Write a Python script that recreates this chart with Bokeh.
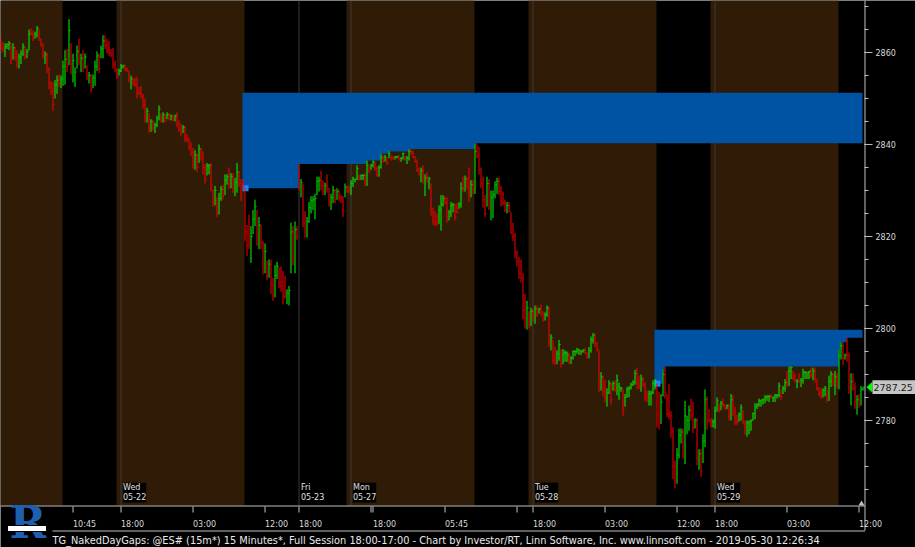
import numpy as np
from bokeh.plotting import figure
from bokeh.models import ColumnDataSource, Range1d
from bokeh.embed import file_html
from bokeh.resources import INLINE
from bokeh.core.properties import value

# ---------------- data (15-minute @ES# bars) ----------------
highs = [
    2863.0, 2862.25, 2862.0, 2862.0, 2862.5, 2862.0, 2862.0, 2861.25, 2860.5, 2859.75,
    2860.5, 2862.0, 2861.25, 2860.75, 2865.0, 2865.25, 2864.75, 2864.5, 2865.75, 2865.0,
    2863.0, 2862.0, 2860.25, 2860.0, 2856.75, 2853.75, 2853.5, 2854.0, 2855.0, 2855.25,
    2855.0, 2858.25, 2860.5, 2860.75, 2867.25, 2862.0, 2859.75, 2856.75, 2861.5, 2863.0,
    2859.75, 2860.5, 2859.75, 2857.25, 2855.75, 2855.25, 2855.25, 2858.25, 2860.25, 2859.75,
    2861.5, 2863.75, 2863.75, 2863.0, 2862.5, 2860.75, 2861.0, 2858.25, 2856.5, 2856.5,
    2857.5, 2857.25, 2857.25, 2856.75, 2856.0, 2855.0, 2854.5, 2854.5, 2854.75, 2852.5,
    2852.75, 2851.0, 2850.0, 2848.0, 2846.75, 2845.5, 2845.25, 2844.75, 2846.25, 2848.5,
    2846.75, 2847.0, 2846.5, 2847.0, 2846.75, 2846.5, 2846.25, 2846.5, 2847.0, 2845.25,
    2844.5, 2844.25, 2844.0, 2842.25, 2841.5, 2840.5, 2839.25, 2838.75, 2838.0, 2840.0,
    2839.25, 2838.5, 2835.75, 2836.0, 2835.75, 2836.0, 2830.25, 2831.0, 2828.5, 2829.5,
    2831.0, 2831.25, 2833.5, 2833.5, 2835.0, 2833.75, 2833.75, 2832.75, 2836.0, 2834.25,
    2832.5, 2832.25, 2830.5, 2822.5, 2824.75, 2822.25, 2825.75, 2828.0, 2825.75, 2824.25,
    2822.5, 2819.0, 2818.5, 2814.75, 2815.0, 2815.0, 2811.0, 2813.75, 2814.5, 2813.25,
    2813.5, 2812.5, 2811.5, 2808.5, 2809.25, 2823.0, 2822.25, 2823.25, 2822.25, 2835.75,
    2832.5, 2831.5, 2825.5, 2824.25, 2827.5, 2828.75, 2828.75, 2829.25, 2833.0, 2833.0,
    2834.25, 2832.25, 2831.75, 2833.5, 2830.5, 2829.25, 2831.0, 2830.25, 2830.5, 2830.25,
    2829.0, 2828.75, 2831.5, 2831.0, 2831.0, 2832.25, 2833.0, 2832.5, 2835.5, 2833.5,
    2833.5, 2833.5, 2833.75, 2836.5, 2835.25, 2835.75, 2836.5, 2836.25, 2835.25, 2835.5,
    2838.0, 2837.75, 2837.75, 2837.0, 2838.5, 2837.75, 2837.5, 2837.5, 2837.5, 2837.5,
    2837.25, 2838.25, 2837.5, 2837.5, 2839.0, 2839.0, 2838.75, 2837.5, 2836.75, 2835.0,
    2835.0, 2835.5, 2833.5, 2834.0, 2833.0, 2831.5, 2826.25, 2825.5, 2825.0, 2826.75,
    2829.0, 2829.0, 2828.75, 2828.5, 2825.75, 2827.5, 2827.25, 2827.0, 2827.25, 2827.5,
    2831.75, 2833.0, 2833.25, 2833.0, 2835.0, 2832.25, 2832.25, 2840.25, 2840.25, 2839.5,
    2835.0, 2833.0, 2829.0, 2833.0, 2832.5, 2830.0, 2830.0, 2832.0, 2832.75, 2833.0,
    2831.0, 2829.75, 2828.0, 2827.5, 2827.5, 2825.25, 2823.0, 2820.75, 2817.0, 2815.5,
    2815.0, 2812.0, 2807.5, 2806.0, 2803.75, 2804.5, 2804.25, 2805.0, 2805.0, 2804.5,
    2805.25, 2803.75, 2803.5, 2805.0, 2804.75, 2798.75, 2797.5, 2796.0, 2795.25, 2797.5,
    2795.5, 2795.5, 2795.25, 2795.0, 2794.75, 2794.0, 2795.25, 2795.25, 2795.75, 2795.5,
    2795.25, 2795.5, 2795.75, 2794.75, 2796.0, 2798.25, 2799.0, 2799.0, 2797.0, 2795.25,
    2790.5, 2789.75, 2788.75, 2787.0, 2788.75, 2788.25, 2788.5, 2788.75, 2790.0, 2788.25,
    2787.25, 2786.75, 2785.75, 2787.25, 2787.5, 2788.25, 2788.75, 2791.0, 2791.5, 2789.75,
    2790.0, 2789.5, 2788.25, 2786.5, 2786.5, 2786.5, 2788.75, 2789.0, 2788.0, 2786.25,
    2785.75, 2791.0, 2791.75, 2785.75, 2788.0, 2782.0, 2778.5, 2771.25, 2774.0, 2778.25,
    2778.25, 2778.25, 2784.25, 2781.0, 2783.25, 2784.75, 2784.0, 2780.5, 2780.5, 2773.75,
    2773.75, 2777.0, 2786.75, 2785.25, 2782.5, 2780.5, 2780.25, 2783.0, 2785.0, 2783.75,
    2784.25, 2784.75, 2783.5, 2783.5, 2783.5, 2785.75, 2785.5, 2783.0, 2781.25, 2781.75,
    2783.5, 2782.25, 2780.0, 2780.0, 2780.0, 2780.25, 2781.75, 2783.75, 2783.75, 2784.75,
    2784.5, 2784.75, 2785.5, 2785.5, 2785.5, 2785.75, 2785.25, 2785.75, 2785.75, 2788.25,
    2786.75, 2787.5, 2789.0, 2790.75, 2791.75, 2791.75, 2790.75, 2790.25, 2789.0, 2790.25,
    2789.25, 2791.25, 2790.75, 2790.5, 2790.75, 2791.5, 2791.5, 2791.5, 2789.0, 2787.25,
    2787.0, 2787.0, 2787.5, 2786.75, 2789.75, 2790.75, 2790.25, 2790.75, 2790.25, 2795.5,
    2797.0, 2797.0, 2794.5, 2798.0, 2794.75, 2790.25, 2790.25, 2788.25, 2785.5, 2785.75,
    2787.5, 2787.25,
]

lows = [
    2860.5, 2860.0, 2859.0, 2860.75, 2860.5, 2857.5, 2858.5, 2858.25, 2856.75, 2856.5,
    2857.5, 2859.25, 2858.5, 2858.75, 2860.5, 2863.75, 2862.5, 2863.0, 2863.25, 2862.5,
    2861.25, 2858.75, 2857.5, 2855.5, 2852.0, 2850.75, 2847.25, 2850.0, 2851.0, 2852.5,
    2852.25, 2852.75, 2853.0, 2855.75, 2857.25, 2855.25, 2853.5, 2852.5, 2856.5, 2857.25,
    2855.75, 2855.75, 2856.5, 2854.0, 2853.25, 2851.25, 2852.25, 2852.75, 2856.0, 2855.5,
    2858.75, 2858.75, 2860.75, 2859.75, 2859.25, 2859.0, 2856.5, 2855.75, 2854.25, 2855.0,
    2855.75, 2856.5, 2856.0, 2855.75, 2853.5, 2852.0, 2852.75, 2852.5, 2850.0, 2850.75,
    2850.0, 2847.75, 2844.75, 2844.75, 2842.5, 2842.75, 2843.0, 2842.5, 2843.75, 2845.25,
    2844.75, 2844.75, 2844.75, 2845.5, 2845.25, 2845.25, 2845.0, 2845.0, 2843.75, 2842.75,
    2841.75, 2842.5, 2840.5, 2840.5, 2838.75, 2837.5, 2834.75, 2834.5, 2834.0, 2836.0,
    2836.5, 2833.5, 2831.5, 2833.25, 2833.5, 2829.75, 2826.5, 2826.75, 2824.25, 2824.75,
    2827.75, 2828.0, 2829.0, 2831.25, 2830.25, 2830.5, 2829.5, 2828.75, 2829.5, 2830.75,
    2827.75, 2830.25, 2819.0, 2815.75, 2817.25, 2814.25, 2820.5, 2822.25, 2818.0, 2817.25,
    2817.25, 2811.75, 2812.0, 2810.5, 2811.0, 2807.5, 2806.0, 2806.75, 2810.75, 2808.75,
    2808.0, 2805.25, 2806.5, 2805.25, 2805.0, 2812.0, 2813.75, 2812.0, 2819.25, 2830.0,
    2828.5, 2822.0, 2819.75, 2819.75, 2823.0, 2825.0, 2825.75, 2823.75, 2829.0, 2829.75,
    2830.0, 2829.0, 2829.0, 2829.5, 2826.5, 2825.75, 2827.25, 2827.25, 2828.0, 2827.75,
    2827.25, 2824.25, 2828.5, 2829.5, 2829.5, 2829.0, 2830.75, 2831.75, 2832.25, 2832.25,
    2832.25, 2832.25, 2831.0, 2831.0, 2833.75, 2834.5, 2835.0, 2834.25, 2833.0, 2833.0,
    2834.75, 2836.0, 2836.25, 2835.5, 2837.0, 2836.5, 2836.75, 2836.75, 2837.0, 2836.5,
    2836.25, 2836.75, 2836.5, 2835.75, 2836.5, 2837.75, 2837.0, 2836.0, 2834.0, 2833.25,
    2831.75, 2831.5, 2828.75, 2831.75, 2830.25, 2824.5, 2822.5, 2822.25, 2822.5, 2822.75,
    2821.25, 2826.5, 2827.0, 2823.0, 2823.5, 2824.25, 2825.25, 2823.5, 2825.0, 2826.0,
    2826.25, 2829.75, 2829.75, 2830.25, 2827.5, 2828.5, 2829.25, 2829.25, 2837.0, 2833.5,
    2830.5, 2826.25, 2824.25, 2826.5, 2825.75, 2823.5, 2824.0, 2828.25, 2829.25, 2829.0,
    2826.5, 2826.75, 2825.25, 2825.0, 2825.25, 2820.5, 2819.0, 2815.25, 2813.5, 2810.75,
    2810.0, 2802.0, 2800.0, 2799.75, 2800.0, 2800.5, 2801.5, 2801.0, 2802.5, 2803.25,
    2802.75, 2801.5, 2801.75, 2802.5, 2796.0, 2795.25, 2792.25, 2792.0, 2792.25, 2793.0,
    2791.5, 2792.25, 2792.75, 2792.75, 2792.25, 2792.25, 2793.25, 2794.0, 2794.5, 2794.25,
    2794.25, 2794.75, 2794.5, 2793.5, 2793.5, 2794.75, 2796.75, 2796.0, 2795.0, 2786.25,
    2786.5, 2785.25, 2784.0, 2783.0, 2785.75, 2783.5, 2786.5, 2786.25, 2785.5, 2784.5,
    2786.25, 2781.0, 2783.0, 2785.0, 2785.0, 2786.75, 2787.5, 2787.75, 2786.75, 2786.75,
    2786.25, 2787.25, 2784.25, 2784.0, 2783.25, 2783.25, 2785.75, 2786.75, 2778.5, 2778.0,
    2779.25, 2785.25, 2784.75, 2780.75, 2780.25, 2776.25, 2767.25, 2765.25, 2766.25, 2771.75,
    2775.0, 2771.75, 2770.5, 2777.0, 2777.75, 2780.0, 2777.25, 2778.25, 2770.25, 2769.25,
    2767.75, 2770.75, 2774.25, 2778.0, 2779.5, 2778.5, 2778.5, 2778.25, 2782.0, 2781.75,
    2782.25, 2783.0, 2782.25, 2782.5, 2780.0, 2780.0, 2781.0, 2779.0, 2779.0, 2779.75,
    2780.0, 2779.25, 2777.0, 2776.5, 2777.0, 2777.75, 2780.0, 2780.25, 2782.5, 2783.0,
    2783.0, 2783.5, 2783.75, 2784.25, 2784.0, 2784.75, 2784.0, 2784.0, 2784.75, 2785.0,
    2784.5, 2785.75, 2786.25, 2787.25, 2787.5, 2789.0, 2788.75, 2788.25, 2787.0, 2788.25,
    2787.25, 2788.0, 2789.0, 2789.0, 2789.0, 2789.25, 2788.75, 2788.25, 2786.5, 2785.25,
    2784.75, 2785.0, 2785.25, 2784.0, 2784.25, 2787.25, 2787.5, 2785.5, 2787.0, 2786.75,
    2793.25, 2792.0, 2793.25, 2792.75, 2785.75, 2783.25, 2786.5, 2782.5, 2781.25, 2782.75,
    2783.25, 2786.5,
]

closes = [
    2861.0, 2860.5, 2861.25, 2861.75, 2862.0, 2858.5, 2861.0, 2859.0, 2857.5, 2859.0,
    2859.75, 2861.25, 2859.25, 2860.25, 2864.0, 2864.0, 2863.0, 2864.0, 2865.25, 2863.0,
    2861.75, 2859.5, 2859.5, 2856.5, 2853.25, 2851.5, 2848.75, 2853.0, 2854.0, 2853.25,
    2854.25, 2857.0, 2858.5, 2857.0, 2864.75, 2857.5, 2858.25, 2855.75, 2860.25, 2858.75,
    2858.75, 2857.0, 2859.0, 2854.75, 2855.0, 2852.0, 2854.5, 2857.0, 2859.25, 2856.5,
    2860.75, 2862.5, 2861.5, 2860.5, 2860.0, 2859.5, 2857.5, 2856.25, 2854.75, 2856.0,
    2857.0, 2857.25, 2856.25, 2856.0, 2854.0, 2854.25, 2853.25, 2853.0, 2851.25, 2851.0,
    2850.5, 2848.5, 2846.0, 2847.25, 2843.5, 2845.0, 2843.5, 2844.25, 2845.75, 2847.75,
    2845.25, 2846.5, 2845.25, 2846.5, 2845.75, 2846.25, 2845.5, 2846.25, 2844.5, 2843.25,
    2842.5, 2843.75, 2841.25, 2841.0, 2839.5, 2838.25, 2835.75, 2837.75, 2835.0, 2839.0,
    2837.25, 2835.0, 2832.5, 2835.25, 2835.5, 2831.25, 2827.5, 2830.0, 2825.25, 2828.25,
    2830.25, 2829.0, 2832.25, 2833.0, 2831.5, 2833.0, 2830.5, 2831.75, 2834.0, 2831.5,
    2829.0, 2830.75, 2821.0, 2818.0, 2818.5, 2820.0, 2823.75, 2826.5, 2820.0, 2822.5,
    2818.5, 2813.5, 2816.75, 2811.5, 2814.0, 2809.5, 2807.25, 2811.5, 2813.5, 2810.0,
    2809.25, 2807.0, 2807.5, 2807.75, 2808.25, 2821.0, 2815.5, 2821.5, 2820.0, 2831.0,
    2831.75, 2823.0, 2821.0, 2823.25, 2826.25, 2827.75, 2828.0, 2828.25, 2832.0, 2832.25,
    2831.0, 2829.75, 2831.0, 2830.5, 2827.5, 2828.5, 2830.0, 2828.0, 2829.75, 2828.5,
    2827.75, 2825.5, 2830.75, 2829.75, 2829.5, 2831.5, 2832.5, 2832.5, 2834.75, 2832.5,
    2833.25, 2833.25, 2831.75, 2835.5, 2834.25, 2835.5, 2836.25, 2834.75, 2833.5, 2835.0,
    2837.25, 2836.5, 2837.25, 2836.0, 2838.0, 2837.0, 2836.75, 2837.25, 2837.5, 2836.75,
    2837.0, 2838.0, 2836.75, 2837.0, 2838.5, 2838.0, 2837.25, 2836.25, 2834.5, 2833.5,
    2834.25, 2832.5, 2832.75, 2832.25, 2832.5, 2826.0, 2823.25, 2822.75, 2822.5, 2825.75,
    2827.0, 2828.25, 2827.25, 2824.25, 2825.25, 2826.75, 2827.0, 2824.25, 2825.25, 2827.0,
    2830.5, 2830.5, 2832.5, 2830.75, 2829.5, 2831.25, 2830.0, 2838.5, 2837.5, 2834.5,
    2831.5, 2828.0, 2825.0, 2831.5, 2827.5, 2828.5, 2829.0, 2831.25, 2832.0, 2829.75,
    2827.5, 2827.25, 2825.75, 2826.75, 2825.5, 2821.5, 2820.0, 2816.5, 2814.5, 2812.0,
    2811.0, 2804.0, 2801.0, 2804.5, 2801.0, 2803.75, 2802.25, 2804.25, 2803.0, 2804.25,
    2803.25, 2801.75, 2803.0, 2804.5, 2797.0, 2798.0, 2793.0, 2792.5, 2794.5, 2796.5,
    2792.25, 2794.5, 2794.75, 2794.25, 2792.75, 2793.5, 2795.0, 2795.0, 2795.5, 2795.25,
    2795.0, 2795.25, 2794.75, 2793.75, 2795.25, 2797.5, 2798.5, 2796.75, 2795.5, 2788.0,
    2789.5, 2786.25, 2785.0, 2786.0, 2788.0, 2784.5, 2788.0, 2786.75, 2788.75, 2787.25,
    2787.0, 2782.5, 2785.0, 2786.75, 2787.0, 2787.75, 2788.25, 2790.25, 2788.0, 2787.5,
    2789.0, 2787.75, 2785.25, 2784.5, 2785.75, 2786.0, 2788.0, 2788.75, 2781.0, 2779.5,
    2784.0, 2790.0, 2786.0, 2781.5, 2781.0, 2777.5, 2770.0, 2767.0, 2772.5, 2776.75,
    2777.5, 2773.0, 2781.0, 2780.0, 2782.25, 2781.0, 2778.5, 2780.0, 2772.0, 2772.75,
    2769.0, 2775.5, 2784.5, 2780.0, 2780.0, 2779.0, 2779.75, 2782.0, 2784.25, 2782.25,
    2783.75, 2783.25, 2782.5, 2783.25, 2781.0, 2784.5, 2782.0, 2779.75, 2779.5, 2781.25,
    2782.75, 2779.75, 2779.25, 2779.5, 2779.75, 2780.0, 2781.5, 2783.0, 2783.5, 2784.25,
    2784.5, 2784.5, 2785.0, 2785.25, 2785.25, 2785.0, 2785.0, 2785.5, 2785.5, 2787.5,
    2785.25, 2787.0, 2788.25, 2788.0, 2790.75, 2791.5, 2789.25, 2788.75, 2788.5, 2788.25,
    2788.75, 2790.5, 2790.5, 2790.5, 2790.75, 2789.75, 2790.75, 2789.0, 2787.0, 2785.75,
    2785.25, 2786.5, 2787.0, 2784.5, 2788.5, 2790.0, 2788.25, 2789.5, 2787.75, 2794.0,
    2796.25, 2793.5, 2794.25, 2794.0, 2787.0, 2788.5, 2787.0, 2784.0, 2784.5, 2783.5,
    2786.75, 2787.25,
]

# bar direction: G = up bar, R = down bar
directions = (
    "RRGGGRGRRG" "GGRGGRRGGR" "RRGRRRRGGR" "GGGRGRGGGR" "GRGRGRGGGR"
    "GGRRRRRRRG" "GGRRRGRRRR" "RRRGRGRGGG" "RGRGRGRGRR" "RGRRRRRGRG"
    "RRRGGRRGRG" "GRGGRGRGGR" "RRRRRGGGRG" "RRGRGRRGGR" "RRRGGGRGRR"
    "GRRGGGGGGG" "RRGRRGGRGR" "RRGRRGGGGR" "GGRGRGGRRG" "GRGRGRRGGR"
    "GGRGGRRRRR" "GRGRGRRRRG" "GGRRGGGRRG" "GRGRRGRGRR" "RRRGRGGGGR"
    "RRRGRRRRRR" "RRRGRGRGRG" "RRGGRGRRGG" "RGGGRGGGGG" "GGRRGGGRRR"
    "GRRGGRGRGG" "GRGGGGGGRR" "GRRRGGGGRR" "GGRRRRRRGG" "GRGGGRRGRG"
    "RGGRRRGGGR" "GRRGRGRRRG" "GRRGGGGGGG" "GGGGGRGGGG" "RGGRGGRRGR"
    "GGGGGRGRRR" "RGGRGGRGRG" "GRGRRGRRGR" "GG"
)

last_price = 2787.25

# trading-session structure (bar indices)
rth_start = [31, 122, 237, 328, 419]        # black (day-session) bands
rth_end = [58, 173, 264, 355, 432]
session_bars = [60, 149, 175, 266, 357]     # new-session separators
session_names = ["Wed\n05-22", "Fri\n05-23", "Mon\n05-27", "Tue\n05-28", "Wed\n05-29"]
time_tick_bars = [36, 60, 96, 132, 149, 185, 186, 222, 258, 266, 302, 338, 357, 393, 429]
time_tick_labels = ["10:45", "18:00", "03:00", "12:00", "18:00", "", "18:00", "05:45", "",
                    "18:00", "03:00", "12:00", "18:00", "03:00", "12:00"]
gap_open_bars = [122, 328]                  # day opens that gapped below prior day low
gap_prior_day = [(31, 59), (237, 264)]      # prior day-session bars

price_ticks = [2780, 2800, 2820, 2840, 2860]
price_minor_ticks = list(range(2765, 2871, 5))

caption = ("TG_NakedDayGaps: @ES# (15m*) 15 Minutes*, Full Session 18:00-17:00 - "
           "Chart by Investor/RT, Linn Software, Inc. www.linnsoft.com - 2019-05-30 12:26:34")

# ---------------- layout (pixel geometry of the canvas) ----------------
W, Hpx = 915, 547
PX_PER_BAR = 2.0
PX_PER_PT = 4.6
TOP_PRICE = 2871.3
CHART_BOTTOM_PX = 505


def bx(px):
    return px / PX_PER_BAR


def py(px):
    return TOP_PRICE - px / PX_PER_PT


H = np.array(highs)
L = np.array(lows)
C = np.array(closes)
n = len(H)

FONT = "DejaVu Sans"
BROWN = "#2f1b06"
GAP_BLUE = "#0052a3"
AX = "#c0c0c0"
XOFF = 0.25   # bar line offset within its 2px slot (pixel aligned)

p = figure(width=W, height=Hpx, x_range=Range1d(0, bx(W)), y_range=Range1d(py(Hpx), TOP_PRICE),
           x_axis_type=None, y_axis_type=None, toolbar_location=None, output_backend="svg",
           min_border=0, background_fill_color="black", border_fill_color="black",
           outline_line_color=None)
p.grid.visible = False

chart_bottom = py(CHART_BOTTOM_PX)

# overnight (brown) bands = complement of day sessions
brown_left = [0] + rth_end[:-1]
brown_right = rth_start
p.quad(left=brown_left, right=brown_right, bottom=chart_bottom, top=TOP_PRICE,
       fill_color=BROWN, line_color=None)

sx = [b + XOFF for b in session_bars]
p.segment(x0=sx, y0=[chart_bottom] * len(sx), x1=sx, y1=[TOP_PRICE] * len(sx),
          line_color="#3a3a3a", line_width=1)

# naked day gaps: from prior day low down to the running high since the open
dot_x, dot_y = [], []
for s, (a, b) in zip(gap_open_bars, gap_prior_day):
    top = float(L[a:b].min())
    run = np.maximum.accumulate(H[s:])
    edges = np.arange(s, n + 1)
    ex = np.repeat(edges, 2)[1:-1].astype(float)
    ey = np.repeat(run, 2)
    xs = np.concatenate([[s - 1], ex, [n - 1, s - 1]])
    xs = np.minimum(xs, n - 1)
    ys = np.concatenate([[run[0]], ey, [top, top]])
    p.patch(xs, ys, fill_color=GAP_BLUE, line_color=None)
    dot_x.append(s + 0.5)
    dot_y.append(float(run[0]))
p.scatter(dot_x, dot_y, marker="square", size=6, fill_color="#1a86ff", line_color=None)

# OHLC bars
colors = ["#00ff00" if d == "G" else "#ff0000" for d in directions]
xb = np.arange(n) + XOFF
src = ColumnDataSource(dict(x=xb, t0=xb + 0.25, t1=xb + 0.75, h=H, l=L, c=C, col=colors))
p.segment(x0="x", y0="l", x1="x", y1="h", line_color="col", line_width=1, source=src)
p.segment(x0="t0", y0="c", x1="t1", y1="c", line_color="col", line_width=1, source=src)

# ---------------- price scale (right) ----------------
axis_x = n + 0.25
p.segment(x0=[axis_x], y0=[py(530)], x1=[axis_x], y1=[TOP_PRICE], line_color=AX, line_width=1)
p.segment(x0=[n] * len(price_minor_ticks), y0=price_minor_ticks,
          x1=[n + 2] * len(price_minor_ticks), y1=price_minor_ticks, line_color=AX, line_width=1)
p.segment(x0=[n] * len(price_ticks), y0=price_ticks,
          x1=[n + 4] * len(price_ticks), y1=price_ticks, line_color=AX, line_width=1)
p.text(x=[n + 5.5] * len(price_ticks), y=price_ticks, text=[str(t) for t in price_ticks],
       text_font=value(FONT), text_font_size="8px", text_color="#d8d8d8",
       text_align="left", text_baseline="middle")

# last price marker
p.patch([n + 1, n + 4, n + 4], [last_price, last_price + 1.2, last_price - 1.2],
        fill_color="#00ff00", line_color=None)
p.quad(left=[n + 4], right=[bx(W)], bottom=[last_price - 1.5], top=[last_price + 1.5],
       fill_color="#c4c4c4", line_color=None)
p.text(x=[n + 4.5], y=[last_price], text=[f"{last_price:.2f}"],
       text_font=value(FONT), text_font_size="9.5px", text_color="#1a1a1a",
       text_align="left", text_baseline="middle")

# ---------------- time scale (bottom) ----------------
p.segment(x0=[0], y0=[py(CHART_BOTTOM_PX + 0.5)], x1=[axis_x], y1=[py(CHART_BOTTOM_PX + 0.5)],
          line_color=AX, line_width=1)
p.segment(x0=[bx(52)], y0=[py(530.5)], x1=[axis_x], y1=[py(530.5)], line_color=AX, line_width=1)
tx = [b + XOFF for b in time_tick_bars]
p.segment(x0=tx, y0=[py(CHART_BOTTOM_PX + 1)] * len(tx), x1=tx,
          y1=[py(CHART_BOTTOM_PX + 7)] * len(tx), line_color=AX, line_width=1)
p.text(x=[b + 0.25 for b in time_tick_bars], y=[py(523.5)] * len(tx), text=time_tick_labels,
       text_font=value(FONT), text_font_size="8px", text_color="#d8d8d8",
       text_align="left", text_baseline="middle")
# current-time marker
p.patch([n - 3, n, n - 1.5], [chart_bottom, chart_bottom, py(CHART_BOTTOM_PX - 5)],
        fill_color=AX, line_color=None)

# session date labels
p.text(x=[b + 1.25 for b in session_bars], y=[py(CHART_BOTTOM_PX - 3)] * len(session_bars),
       text=session_names, text_font=value(FONT), text_font_size="8px", text_color="#e0e0e0",
       text_align="left", text_baseline="bottom", background_fill_color="black")

# caption and logo
p.text(x=[bx(52)], y=[py(540)], text=[caption], text_font=value(FONT), text_font_size="9.8px",
       text_color="#e8e8e8", text_align="left", text_baseline="middle")
p.text(x=[bx(9)], y=[py(547)], text=["R"], text_font=value("DejaVu Serif"),
       text_font_style="bold", text_font_size="44px", text_color="#1f5fb0",
       text_align="left", text_baseline="bottom")
p.quad(left=[bx(7)], right=[bx(46)], bottom=[py(531)], top=[py(525)],
       fill_color="white", line_color="black", line_width=1)

html = file_html(p, INLINE, title="TG_NakedDayGaps")
html = html.replace("<body>", '<body style="margin:0;background-color:#000000;">', 1)
open("out.html", "w").write(html)
